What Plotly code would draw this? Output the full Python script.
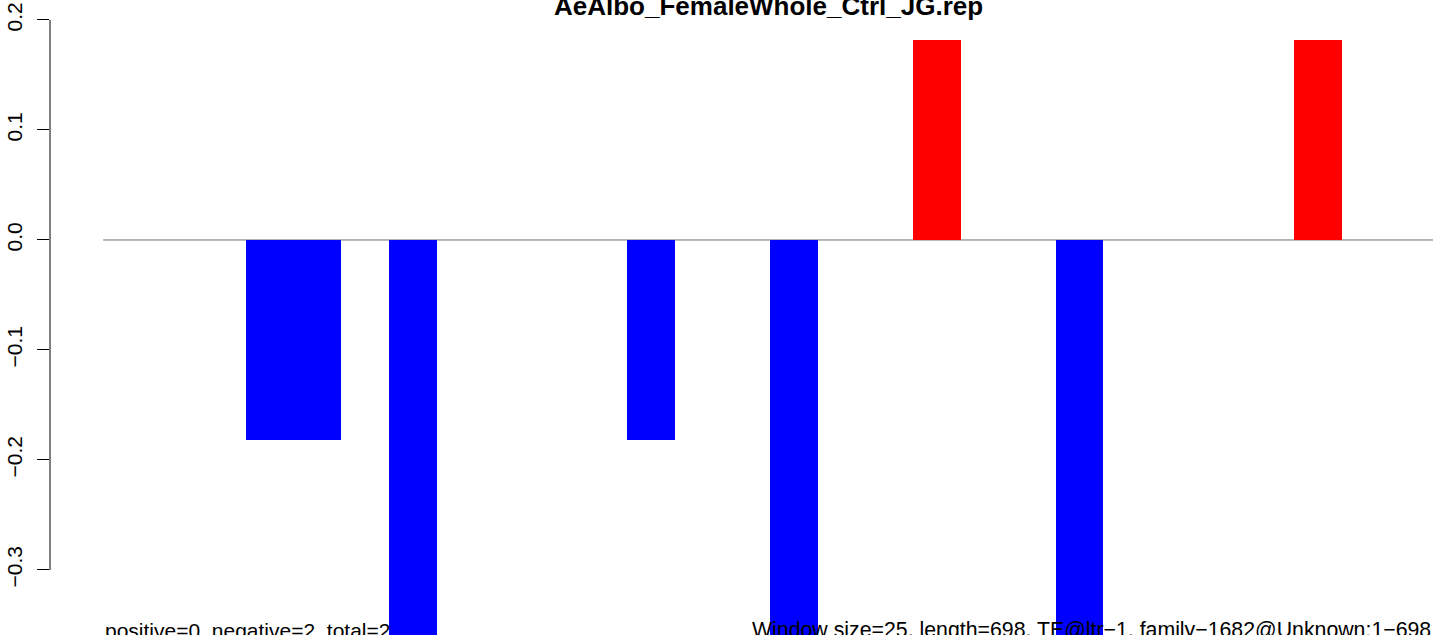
import plotly.graph_objects as go

# Data: 25 bp windows along a 698 bp element
window_size = 25
seq_length = 698
window_values = [0, 0, 0, -0.182, -0.182, 0, -0.364, 0, 0, 0,
                 0, -0.182, 0, 0, -0.364, 0, 0, 0.182, 0, 0,
                 -0.364, 0, 0, 0, 0, 0.182, 0, 0]
title_text = "AeAlbo_FemaleWhole_Ctrl_JG.rep"
left_note = "positive=0, negative=2, total=2"
right_note = "Window size=25, length=698, TE@ltr\u22121, family\u22121682@Unknown:1\u2212698"
y_ticks = [-0.3, -0.2, -0.1, 0.0, 0.1, 0.2]

centers = [window_size * i + window_size / 2 for i in range(len(window_values))]
colors = ["red" if v > 0 else "blue" for v in window_values]

FONT = "Liberation Sans, Arial, Helvetica, sans-serif"

fig = go.Figure()
fig.add_trace(go.Bar(
    x=centers, y=window_values, width=window_size,
    marker=dict(color=colors, line=dict(width=0)),
    showlegend=False, hoverinfo="skip",
))

# zero line across the element
fig.add_shape(type="line", x0=0, x1=seq_length, y0=0, y1=0,
              line=dict(color="#6e6e6e", width=1), layer="below")
# R-style axis line only between the outer ticks
fig.add_shape(type="line", xref="paper", x0=0, x1=0, y0=y_ticks[0], y1=y_ticks[-1],
              line=dict(color="black", width=1))

fig.add_annotation(text="<b>" + title_text + "</b>", x=seq_length / 2, xref="x",
                   y=1, yref="paper", yanchor="bottom", yshift=-7, showarrow=False,
                   font=dict(size=26, color="black", family=FONT))
fig.add_annotation(text=left_note, x=0, xref="x", xanchor="left",
                   y=0, yref="paper", yanchor="bottom", yshift=-9, showarrow=False,
                   font=dict(size=21, color="black", family=FONT))
fig.add_annotation(text=right_note, x=seq_length, xref="x", xanchor="right",
                   y=0, yref="paper", yanchor="bottom", yshift=-9, showarrow=False,
                   font=dict(size=21.3, color="black", family=FONT))

fig.update_layout(
    width=1433, height=635,
    margin=dict(l=50, r=0, t=16, b=0, autoexpand=False),
    paper_bgcolor="white", plot_bgcolor="white",
    bargap=0,
    xaxis=dict(range=[-27.9, seq_length], visible=False, automargin=False),
    yaxis=dict(range=[-0.3591, 0.2036], tickvals=y_ticks, tickformat=".1f",
               ticks="outside", ticklen=12, tickcolor="black", tickwidth=1,
               tickangle=-90, ticklabelstandoff=7, automargin=False,
               showline=False, showgrid=False, zeroline=False,
               tickfont=dict(size=21, color="black", family=FONT)),
    font=dict(family=FONT),
)

# drop the browser's default page margin so the figure sits at the corner
fig.write_html("out.html", config={"displayModeBar": False},
               post_script="document.body.style.margin='0';document.body.style.overflow='hidden';")
